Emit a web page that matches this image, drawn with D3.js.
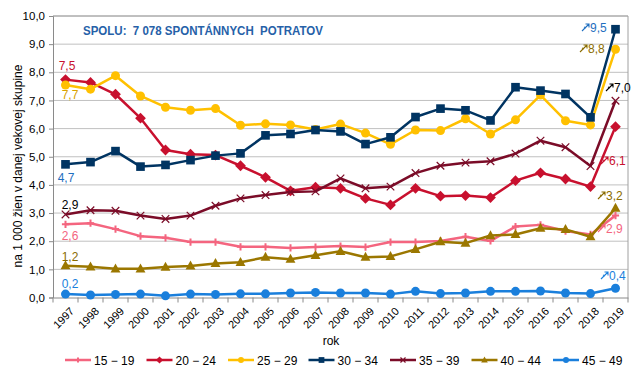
<!DOCTYPE html>
<html><head><meta charset="utf-8">
<script src="https://cdn.jsdelivr.net/npm/d3@7"></script>
<style>
html,body{margin:0;padding:0;background:#fff;}
text{font-family:"Liberation Sans",Arial,sans-serif;}
</style></head>
<body><svg id="c" width="640" height="384"></svg>
<script>
const years = ["1997","1998","1999","2000","2001","2002","2003","2004","2005","2006","2007","2008","2009","2010","2011","2012","2013","2014","2015","2016","2017","2018","2019"];
const yTicks = [0,1,2,3,4,5,6,7,8,9,10];
const seriesNames = ["15 − 19","20 − 24","25 − 29","30 − 34","35 − 39","40 − 44","45 − 49"];
const s15_19 = [2.60,2.64,2.43,2.18,2.12,1.97,1.97,1.80,1.80,1.76,1.79,1.83,1.79,1.97,1.97,2.01,2.16,2.01,2.52,2.58,2.36,2.24,2.91];
const s20_24 = [7.74,7.64,7.22,6.37,5.24,5.09,5.06,4.68,4.27,3.79,3.92,3.88,3.52,3.29,3.88,3.60,3.62,3.55,4.15,4.43,4.21,3.94,6.07];
const s25_29 = [7.55,7.40,7.88,7.16,6.76,6.65,6.71,6.12,6.17,6.13,5.97,6.16,5.84,5.44,5.95,5.93,6.35,5.81,6.31,7.19,6.28,6.13,8.82];
const s30_34 = [4.73,4.81,5.20,4.65,4.71,4.88,5.04,5.12,5.76,5.81,5.95,5.90,5.45,5.69,6.41,6.71,6.65,6.29,7.47,7.35,7.23,6.40,9.53];
const s35_39 = [2.95,3.10,3.08,2.91,2.79,2.91,3.26,3.52,3.64,3.75,3.77,4.23,3.88,3.94,4.42,4.68,4.79,4.84,5.11,5.57,5.34,4.67,6.99];
const s40_44 = [1.13,1.09,1.02,1.02,1.08,1.12,1.21,1.25,1.43,1.36,1.50,1.64,1.43,1.46,1.71,1.98,1.93,2.20,2.24,2.46,2.42,2.16,3.17];
const s45_49 = [0.12,0.09,0.11,0.12,0.06,0.12,0.11,0.13,0.13,0.16,0.18,0.16,0.16,0.12,0.22,0.14,0.16,0.22,0.22,0.23,0.16,0.14,0.33];
const seriesColors = ["#f4657f","#c8102e","#ffc000","#003462","#7b0c28","#9b7700","#1a7fdc"];
const seriesMarkers = ["plus","diamond","circle","square","cross","triangle","circle"];
const startLabels = ["2,6","7,5","7,7","4,7","2,9","1,2","0,2"];
const endLabels = ["2,9","6,1","8,8","9,5","7,0","3,2","0,4"];
const titleText = "SPOLU:  7 078 SPONTÁNNYCH  POTRATOV";
const yTitle = "na 1 000 žien v danej vekovej skupine";
const xTitle = "rok";

const allSeries = [s15_19,s20_24,s25_29,s30_34,s35_39,s40_44,s45_49];
const svg = d3.select("#c");
const L=53,R=628,T=16,B=297.5;
const x = d3.scaleBand().domain(years).range([L,R]);
const y = d3.scaleLinear().domain([0,10]).range([B,T]);
const cx = d => x(d)+x.bandwidth()/2;
const fmt = v => d3.format(".1f")(v).replace(".",",");

// gridlines
svg.append("g").selectAll("line").data(yTicks.slice(1)).join("line")
  .attr("x1",L).attr("x2",R).attr("y1",d=>y(d)).attr("y2",d=>y(d))
  .attr("stroke","#c0c0c0").attr("stroke-width",1);
// frame top/right
svg.append("path").attr("d",`M${L},${T}H${R}V${B}`).attr("fill","none").attr("stroke","#a0a0a0");

// y axis
const ya = svg.append("g").attr("transform",`translate(${L},0)`)
  .call(d3.axisLeft(y).tickValues(yTicks).tickFormat(fmt).tickSize(4).tickPadding(4));
ya.select(".domain").attr("stroke","#8a8a8a");
ya.selectAll(".tick line").attr("stroke","#8a8a8a");
ya.selectAll("text").attr("font-size",11.5).attr("fill","#000").style("font-family","'Liberation Sans',Arial,sans-serif");

// x axis
const xa = svg.append("g").attr("transform",`translate(0,${B})`)
  .call(d3.axisBottom(x).tickSize(0).tickFormat(""));
xa.select(".domain").attr("stroke","#8a8a8a");
svg.append("g").selectAll("line").data(d3.range(years.length+1)).join("line")
  .attr("x1",i=>L+i*x.step()).attr("x2",i=>L+i*x.step())
  .attr("y1",B).attr("y2",B+5).attr("stroke","#8a8a8a");
svg.append("g").selectAll("text").data(years).join("text")
  .attr("transform",d=>`translate(${cx(d)+4},${B+9}) rotate(-45)`)
  .attr("text-anchor","end").attr("dy","0.7em").attr("font-size",11).attr("fill","#000").text(d=>d);

// titles
svg.append("text").attr("x",83).attr("y",35).attr("font-size",12.5).attr("font-weight","bold")
  .attr("textLength",240).attr("lengthAdjust","spacingAndGlyphs")
  .attr("fill","#2661a8").style("white-space","pre").text(titleText);
svg.append("text").attr("transform","translate(21.5,166) rotate(-90)").attr("text-anchor","middle")
  .attr("font-size",12).attr("fill","#000").text(yTitle);
svg.append("text").attr("x",331).attr("y",345).attr("text-anchor","middle").attr("font-size",12).attr("fill","#000").text(xTitle);

function marker(g, type, px, py, color, s){
  if(type==="circle") g.append("circle").attr("cx",px).attr("cy",py).attr("r",s*0.5).attr("fill",color);
  else if(type==="square") g.append("rect").attr("x",px-s*0.48).attr("y",py-s*0.48).attr("width",s*0.96).attr("height",s*0.96).attr("fill",color);
  else if(type==="diamond") g.append("path").attr("d",`M${px},${py-s*0.6}L${px+s*0.6},${py}L${px},${py+s*0.6}L${px-s*0.6},${py}Z`).attr("fill",color);
  else if(type==="triangle") g.append("path").attr("d",`M${px},${py-s*0.6}L${px+s*0.55},${py+s*0.4}L${px-s*0.55},${py+s*0.4}Z`).attr("fill",color);
  else if(type==="cross") g.append("path").attr("d",`M${px-s*0.42},${py-s*0.42}L${px+s*0.42},${py+s*0.42}M${px-s*0.42},${py+s*0.42}L${px+s*0.42},${py-s*0.42}`).attr("stroke",color).attr("stroke-width",1.2);
  else if(type==="plus") g.append("path").attr("d",`M${px-s*0.4},${py}H${px+s*0.4}M${px},${py-s*0.4}V${py+s*0.4}`).attr("stroke",color).attr("stroke-width",2);
}

const line = d3.line().x((d,i)=>cx(years[i])).y(d=>y(d));
allSeries.forEach((vals,si)=>{
  const g = svg.append("g");
  g.append("path").datum(vals).attr("d",line).attr("fill","none")
    .attr("stroke",seriesColors[si]).attr("stroke-width",2.5).attr("stroke-linejoin","round");
  vals.forEach((v,i)=>marker(g, seriesMarkers[si], cx(years[i]), y(v), seriesColors[si], 9));
});

// data labels
const labelColors = ["#f4657f","#c8102e","#d9a300","#1f6fc0","#000000","#8a6c00","#1a7fdc"];
const endColors = ["#f4657f","#c8102e","#8a6c00","#1f6fc0","#000000","#8a6c00","#1a7fdc"];
const startPos = [[70,240],[67,70],[70,99],[66,182],[70,209],[70,261],[70,288]];
const endPos = [[606,233],[609,165],[588,53],[590,32],[614,92],[606,200],[609,280]];
startLabels.forEach((t,i)=>{
  svg.append("text").attr("x",startPos[i][0]).attr("y",startPos[i][1]).attr("text-anchor","middle")
    .attr("font-size",12).attr("fill",labelColors[i]).text(t);
});
endLabels.forEach((t,i)=>{
  const [px,py]=endPos[i];
  svg.append("path").attr("d",`M${px-8},${py-1}L${px-1},${py-8}M${px-4.5},${py-8}H${px-1}V${py-4.5}M${px-6},${py-5}l2,1`)
    .attr("fill","none").attr("stroke",endColors[i]).attr("stroke-width",1.1);
  svg.append("text").attr("x",px).attr("y",py).attr("font-size",12).attr("fill",endColors[i]).text(t);
});

// legend
const legX = [65,146.5,228,308.5,390,471.5,553];
seriesNames.forEach((n,i)=>{
  const g = svg.append("g");
  g.append("line").attr("x1",legX[i]).attr("x2",legX[i]+26).attr("y1",360).attr("y2",360)
    .attr("stroke",seriesColors[i]).attr("stroke-width",2.5);
  marker(g, seriesMarkers[i], legX[i]+13, 360, seriesColors[i], 6);
  g.append("text").attr("x",legX[i]+29).attr("y",364.5).attr("font-size",12).attr("fill","#000").text(n);
});
</script></body></html>
